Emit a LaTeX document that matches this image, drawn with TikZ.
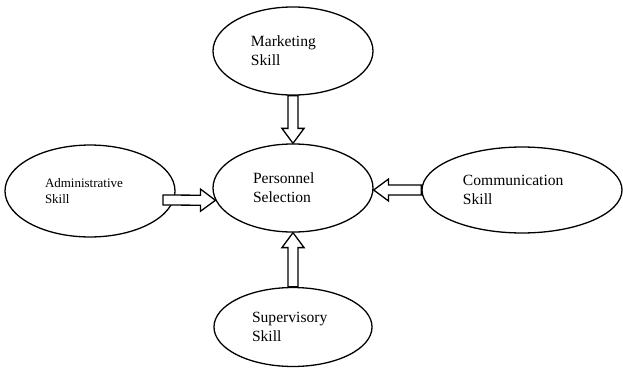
\documentclass[tikz,border=0pt]{standalone}
\usepackage{fontspec}
\setmainfont{Liberation Serif}
\usetikzlibrary{shapes.geometric,calc}

% hollow block arrow from #1 to #2
\newcommand{\hollowarrow}[2]{%
  \coordinate (hd) at ($(#2)!11.5pt!(#1)$);
  \draw[blockarrow] ($(#1)!3.85pt!90:(#2)$) -- ($(hd)!3.85pt!90:(#2)$) -- ($(hd)!8.5pt!90:(#2)$)
    -- (#2) -- ($(hd)!8.5pt!-90:(#2)$) -- ($(hd)!3.85pt!-90:(#2)$) -- ($(#1)!3.85pt!-90:(#2)$) -- cycle;}

\begin{document}
\begin{tikzpicture}[x=0.77pt, y=-0.77pt,
    skill/.style={ellipse, draw, line width=1pt, align=left, inner sep=0pt, font=\fontsize{12}{14.5}\selectfont},
    blockarrow/.style={draw, fill=white, line width=1pt, line join=miter}]
    \useasboundingbox (0,0) rectangle (623,373);

    \node[skill, minimum width=123.2pt, minimum height=67.8pt, text width=64.7pt] (mkt) at (293,51) {Marketing\\Skill};
    \node[skill, minimum width=123.2pt, minimum height=67.8pt, text width=61.6pt] (sel) at (293,188) {Personnel\\Selection};
    \node[skill, minimum width=130.9pt, minimum height=70.8pt, text width=69.3pt,
          font=\fontsize{10}{13}\selectfont] (adm) at (90,191) {Administrative\\Skill};
    \node[skill, minimum width=154pt, minimum height=66.2pt, text width=90.9pt] (comm) at (522,190) {Communication\\Skill};
    \node[skill, minimum width=121.7pt, minimum height=60.8pt, text width=63.1pt] (sup) at (293,327) {Supervisory\\Skill};

    \coordinate (admout) at (163,200);
    \coordinate (admin) at (sel.189);
    \coordinate (commin) at (sel.east |- comm.west);

    \hollowarrow{mkt.south}{sel.north}
    \hollowarrow{admout}{admin}
    \hollowarrow{comm.west}{commin}
    \hollowarrow{sup.north}{sel.south}
\end{tikzpicture}
\end{document}
